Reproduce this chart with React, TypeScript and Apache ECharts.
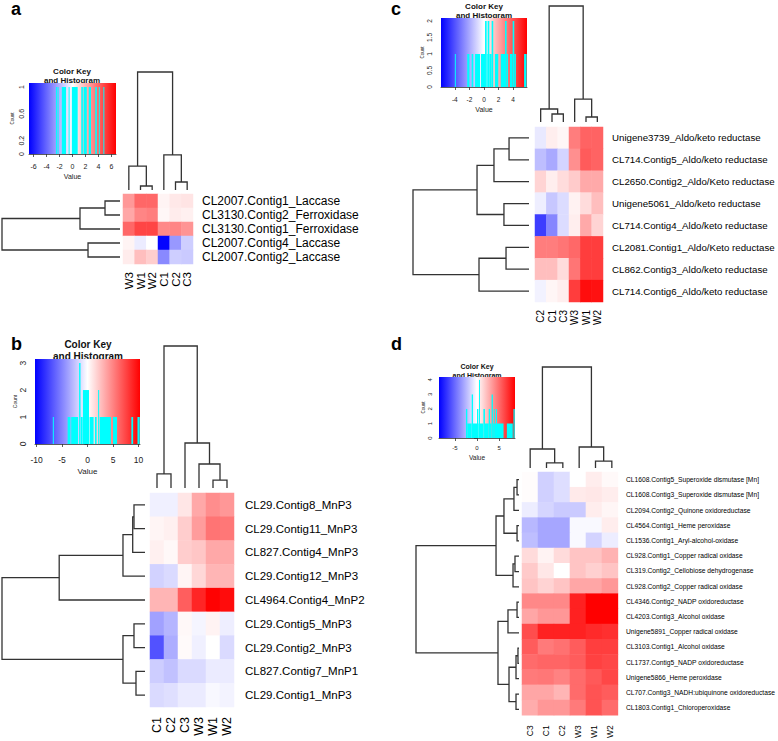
import React, { useEffect, useRef } from 'react';
import * as echarts from 'echarts';

type Merge = [number, number, number];
type Bin = [number, number, number];

// ---------------- Panel a ----------------
const aRows = ['CL2007.Contig1_Laccase', 'CL3130.Contig2_Ferroxidase', 'CL3130.Contig1_Ferroxidase', 'CL2007.Contig4_Laccase', 'CL2007.Contig2_Laccase'];
const aCols = ['W3', 'W1', 'W2', 'C1', 'C2', 'C3'];
const aValues = [
  [2.7, 4.0, 4.0, 0.3, 0.6, 0.7],
  [2.3, 3.2, 3.4, 0.2, 0.5, 0.4],
  [4.0, 4.9, 4.9, 3.1, 3.2, 2.8],
  [0.3, -0.5, 0.0, -6.6, -2.7, -1.3],
  [0.5, 1.7, 1.3, -3.1, -1.3, -1.4],
];
const aRowMerges: Merge[] = [[-1, -2, 0.127], [1, -3, 0.339], [-4, -5, 0.271], [2, 3, 1]];
const aColMerges: Merge[] = [[-2, -3, 0.034], [-1, 1, 0.203], [-5, -6, 0.068], [-4, 3, 0.297], [2, 4, 1]];
const aHist: Bin[] = [
  [-2.55, -2.4, 1], [-2.3, -2.15, 1], [-1.65, -1.0, 1], [-0.6, -0.45, 1], [-0.1, 0.8, 1],
  [1.35, 1.6, 1], [1.7, 2.2, 1], [2.5, 2.85, 1], [3.5, 3.75, 1], [4.05, 4.2, 1], [4.75, 4.9, 1],
];
const aXTicks = [-6, -4, -2, 0, 2, 4, 6];
const aYTicks = [0, 0.2, 0.4, 0.6, 0.8, 1];
const aYLabels = [0, 0.2, 0.6, 1];

// ---------------- Panel b ----------------
const bRows = ['CL29.Contig8_MnP3', 'CL29.Contig11_MnP3', 'CL827.Contig4_MnP3', 'CL29.Contig12_MnP3', 'CL4964.Contig4_MnP2', 'CL29.Contig5_MnP3', 'CL29.Contig2_MnP3', 'CL827.Contig7_MnP1', 'CL29.Contig1_MnP3'];
const bCols = ['C1', 'C2', 'C3', 'W3', 'W1', 'W2'];
const bValues = [
  [-0.6, -0.6, 1.0, 3.5, 4.6, 4.2],
  [0.4, 0.6, 2.0, 4.0, 5.6, 5.5],
  [0.6, 0.3, 2.0, 2.3, 3.5, 3.5],
  [-1.8, -1.5, 0.4, 1.6, 3.0, 3.0],
  [3.0, 3.0, 6.5, 8.8, 10.2, 9.8],
  [-3.8, -3.0, 0.3, -0.4, 0.5, -0.7],
  [-7.0, -3.3, 0.2, -0.6, 0.0, -1.5],
  [-2.0, -2.5, -1.5, -1.5, -0.8, -0.8],
  [-1.5, -1.3, -0.8, -0.8, -0.3, -0.5],
];
const bRowMerges: Merge[] = [[-1, -2, 0.077], [1, -3, 0.086], [2, -4, 0.154], [3, -5, 0.6], [-6, -7, 0.077], [-8, -9, 0.063], [5, 6, 0.154], [4, 7, 1]];
const bColMerges: Merge[] = [[-1, -2, 0.099], [-5, -6, 0.056], [-4, 2, 0.169], [-3, 3, 0.317], [1, 4, 1]];
const bHist: Bin[] = [
  [-6.8, -6.6, 1], [-3.9, -3.35, 1], [-3.2, -1.85, 1], [-1.65, -1.37, 3], [-1.3, -0.95, 1], [-0.9, 0.3, 2],
  [0.4, 1.2, 1], [1.45, 1.8, 1], [2.08, 2.28, 2], [2.4, 4.6, 1], [5.0, 5.8, 1], [8.6, 8.95, 1], [9.8, 10.25, 1],
];
const bXTicks = [-10, -5, 0, 5, 10];
const bYTicks = [0, 0.5, 1, 1.5, 2, 2.5, 3];
const bYLabels = [0, 1, 2, 3];

// ---------------- Panel c ----------------
const cRows = ['Unigene3739_Aldo/keto reductase', 'CL714.Contig5_Aldo/keto reductase', 'CL2650.Contig2_Aldo/Keto reductase', 'Unigene5061_Aldo/keto reductase', 'CL714.Contig4_Aldo/keto reductase', 'CL2081.Contig1_Aldo/Keto reductase', 'CL862.Contig3_Aldo/keto reductase', 'CL714.Contig6_Aldo/keto reductase'];
const cCols = ['C2', 'C1', 'C3', 'W3', 'W1', 'W2'];
const cValues = [
  [-0.5, 0.4, 0.2, 3.0, 3.6, 3.6],
  [-1.5, -2.0, -1.0, 2.6, 3.8, 3.6],
  [1.0, 0.4, 0.8, 1.2, 2.0, 2.0],
  [-0.4, -1.3, -0.8, 0.3, 0.8, 1.5],
  [-4.5, -2.8, -0.8, 0.4, 2.0, 1.0],
  [3.0, 3.0, 3.2, 3.5, 4.5, 4.5],
  [1.5, 1.5, 0.8, 3.2, 4.5, 4.5],
  [-0.3, 0.2, 0.4, 4.5, 5.6, 5.5],
];
const cRowMerges: Merge[] = [[-1, -2, 0.172], [1, -3, 0.302], [-4, -5, 0.216], [2, 3, 0.448], [-6, -7, 0.198], [5, -8, 0.431], [4, 6, 1]];
const cColMerges: Merge[] = [[-2, -3, 0.069], [-1, 1, 0.112], [-5, -6, 0.043], [-4, 3, 0.198], [2, 4, 1]];
const cHist: Bin[] = [
  [-4.0, -3.88, 1], [-2.3, -2.0, 1], [-1.7, -1.47, 1], [-1.23, -0.55, 1], [-0.41, 0.14, 1], [0.14, 0.37, 2],
  [0.37, 0.5, 1], [0.5, 0.73, 2], [0.73, 1.05, 1], [1.05, 1.27, 2], [1.5, 1.96, 1], [2.3, 2.88, 1],
  [2.88, 3.1, 2], [3.1, 3.3, 1], [3.56, 3.93, 1], [3.93, 4.15, 2], [4.15, 4.38, 1], [5.5, 5.85, 1],
];
const cXTicks = [-4, -2, 0, 2, 4];
const cYTicks = [0, 0.5, 1, 1.5, 2];
const cYLabels = [0, 0.5, 1, 1.5, 2];

// ---------------- Panel d ----------------
const dRows = [
  'CL1608.Contig5_Superoxide dismutase [Mn]', 'CL1608.Contig3_Superoxide dismutase [Mn]', 'CL2094.Contig2_Quinone oxidoreductase',
  'CL4564.Contig1_Heme peroxidase', 'CL1536.Contig1_Aryl-alcohol-oxidase', 'CL928.Contig1_Copper radical oxidase',
  'CL319.Contig2_Cellobiose dehydrogenase', 'CL928.Contig2_Copper radical oxidase', 'CL4346.Contig2_NADP oxidoreductase',
  'CL4203.Contig3_Alcohol oxidase', 'Unigene5891_Copper radical oxidase', 'CL3103.Contig1_Alcohol oxidase',
  'CL1737.Contig5_NADP oxidoreductase', 'Unigene5866_Heme peroxidase', 'CL707.Contig3_NADH:ubiquinone oxidoreductase',
  'CL1803.Contig1_Chloroperoxidase',
];
const dCols = ['C3', 'C1', 'C2', 'W3', 'W1', 'W2'];
const dValues = [
  [0.1, -1.6, -1.1, 0.0, 0.6, 0.2],
  [0.1, -1.6, -1.1, 0.7, 0.8, 0.6],
  [-0.6, -1.4, -1.8, -1.8, 0.6, 0.3],
  [-2.4, -3.0, -3.0, -0.2, -0.2, 0.6],
  [-2.2, -3.0, -3.0, -0.2, -1.5, -0.6],
  [1.2, 0.4, 1.2, 2.0, 2.0, 2.6],
  [1.8, 0.8, 0.0, 2.0, 1.6, 2.0],
  [2.0, 1.5, 2.0, 3.0, 3.0, 3.5],
  [4.0, 4.0, 4.0, 7.5, 8.6, 8.6],
  [3.0, 3.5, 3.5, 7.5, 8.6, 8.6],
  [6.0, 7.5, 7.5, 7.5, 7.2, 7.0],
  [5.5, 4.5, 4.8, 5.5, 6.5, 6.5],
  [5.0, 5.2, 5.2, 5.5, 6.4, 6.2],
  [4.5, 4.6, 4.2, 5.0, 5.6, 6.2],
  [3.0, 3.0, 2.5, 5.0, 5.8, 5.5],
  [2.8, 3.5, 3.5, 4.5, 5.8, 5.0],
];
const dRowMerges: Merge[] = [
  [-1, -2, 0.019], [1, -3, 0.049], [-4, -5, 0.019], [2, 3, 0.146], [-6, -7, 0.039], [5, -8, 0.058], [4, 6, 0.223],
  [-9, -10, 0.019], [8, -11, 0.107], [-12, -13, 0.01], [10, -14, 0.029], [-15, -16, 0.029], [11, 12, 0.097],
  [9, 13, 0.204], [7, 14, 1],
];
const dColMerges: Merge[] = [[-2, -3, 0.05], [-1, 1, 0.188], [-5, -6, 0.069], [-4, 3, 0.208], [2, 4, 1]];
const dHist: Bin[] = [
  [-2.5, -2.2, 2], [-2.2, -1.2, 1], [-1.2, -0.9, 3], [-0.9, 0.0, 1], [0.0, 0.3, 2], [0.3, 0.45, 1], [0.45, 0.68, 4],
  [0.68, 1.45, 1], [1.45, 1.8, 2], [1.8, 2.65, 1], [2.65, 2.95, 2], [2.95, 3.3, 1], [3.3, 3.6, 3], [3.6, 3.8, 1],
  [3.8, 3.95, 2], [3.95, 4.3, 1], [4.3, 4.5, 2], [4.5, 6.0, 1], [6.75, 8.1, 1], [8.25, 8.55, 2],
];
const dXTicks = [-5, 0, 5];
const dYTicks = [0, 1, 2, 3, 4];
const dYLabels = [0, 1, 2, 3, 4];

// ---------------- Layout / styling ----------------
const FONT = '"Liberation Sans", Arial, Helvetica, sans-serif';
const LINE = '#333333';

type Box = [number, number, number, number];
interface Panel {
  letter: string; letterPos: [number, number];
  rows: string[]; cols: string[]; values: number[][];
  rowMerges: Merge[]; colMerges: Merge[]; hist: Bin[];
  range: number; yMax: number; xTicks: number[]; yTicks: number[]; yLabels: number[];
  heat: Box; colD: Box; rowD: Box; key: Box;
  rowFont: number; rowGap: number; colFont: number; colGap: number;
  keyFont: number; xLabGap: number; valueGap: number; valueFont: number; yLabGap: number; countGap: number; countFont: number;
  titlePos: [number, number, number]; titleFont: number;
}

const panels: Panel[] = [
  {
    letter: 'a', letterPos: [11, 0], rows: aRows, cols: aCols, values: aValues, rowMerges: aRowMerges, colMerges: aColMerges, hist: aHist,
    range: 6.7, yMax: 1.06, xTicks: aXTicks, yTicks: aYTicks, yLabels: aYLabels,
    heat: [123, 194, 70, 70], colD: [123, 72, 70, 118], rowD: [2, 194, 118, 70], key: [29, 83, 87, 71],
    rowFont: 12, rowGap: 9, colFont: 11.5, colGap: 8,
    keyFont: 7, xLabGap: 9, valueGap: 19, valueFont: 7, yLabGap: 4, countGap: 14, countFont: 4.5,
    titlePos: [72, 71, 80], titleFont: 8,
  },
  {
    letter: 'b', letterPos: [11, 335], rows: bRows, cols: bCols, values: bValues, rowMerges: bRowMerges, colMerges: bColMerges, hist: bHist,
    range: 10.3, yMax: 3.15, xTicks: bXTicks, yTicks: bYTicks, yLabels: bYLabels,
    heat: [150, 493, 84, 214], colD: [150, 346, 84, 142], rowD: [2, 493, 143, 214], key: [35, 359, 105, 85],
    rowFont: 11.5, rowGap: 11, colFont: 12.5, colGap: 10,
    keyFont: 8.5, xLabGap: 11, valueGap: 23, valueFont: 8, yLabGap: 8, countGap: 18, countFont: 5,
    titlePos: [88, 344, 356], titleFont: 10,
  },
  {
    letter: 'c', letterPos: [391, 0], rows: cRows, cols: cCols, values: cValues, rowMerges: cRowMerges, colMerges: cColMerges, hist: cHist,
    range: 5.9, yMax: 2.09, xTicks: cXTicks, yTicks: cYTicks, yLabels: cYLabels,
    heat: [535, 127, 68, 175], colD: [535, 6, 68, 116], rowD: [413, 127, 116, 175], key: [441, 18, 86, 69],
    rowFont: 9.7, rowGap: 9, colFont: 10, colGap: 8,
    keyFont: 6.5, xLabGap: 9, valueGap: 19, valueFont: 7, yLabGap: 8, countGap: 15, countFont: 4.5,
    titlePos: [484, 6, 15], titleFont: 8,
  },
  {
    letter: 'd', letterPos: [391, 335], rows: dRows, cols: dCols, values: dValues, rowMerges: dRowMerges, colMerges: dColMerges, hist: dHist,
    range: 8.6, yMax: 4.2, xTicks: dXTicks, yTicks: dYTicks, yLabels: dYLabels,
    heat: [522, 472, 98, 245], colD: [522, 367, 98, 101], rowD: [416, 472, 103, 245], key: [439, 377, 76, 61],
    rowFont: 6.7, rowGap: 8, colFont: 8.5, colGap: 10,
    keyFont: 6, xLabGap: 7, valueGap: 16, valueFont: 6.5, yLabGap: 6, countGap: 13, countFont: 4.5,
    titlePos: [477, 366, 375], titleFont: 7,
  },
];

// dendrogram layout from merge list (R hclust style: negative = leaf in display order, positive = earlier merge)
function dendroSegments(merges: Merge[]): number[][] {
  const pos: number[] = [];
  const hgt: number[] = [];
  const P = (v: number) => (v < 0 ? -v - 1 : pos[v - 1]);
  const H = (v: number) => (v < 0 ? 0 : hgt[v - 1]);
  return merges.map(([a, b, h], k) => {
    const pa = P(a), pb = P(b);
    pos[k] = (pa + pb) / 2;
    hgt[k] = h;
    return [pa, H(a), pb, H(b), h];
  });
}

function gridOf(b: Box) {
  return { left: b[0], top: b[1], width: b[2], height: b[3], containLabel: false };
}

function buildOption() {
  const grid: any[] = [], xAxis: any[] = [], yAxis: any[] = [], series: any[] = [], visualMap: any[] = [], graphic: any[] = [];
  panels.forEach((P, idx) => {
    const g = idx * 4;
    grid.push(gridOf(P.heat), gridOf(P.colD), gridOf(P.rowD), gridOf(P.key));
    // heatmap axes
    xAxis.push({
      gridIndex: g, type: 'category', data: P.cols, position: 'bottom',
      axisLine: { show: false }, axisTick: { show: false }, splitArea: { show: false }, splitLine: { show: false },
      axisLabel: { rotate: 90, fontSize: P.colFont, margin: P.colGap, color: '#000', fontFamily: FONT, interval: 0 },
    });
    yAxis.push({
      gridIndex: g, type: 'category', data: P.rows, inverse: true, position: 'right',
      axisLine: { show: false }, axisTick: { show: false }, splitArea: { show: false }, splitLine: { show: false },
      axisLabel: { align: 'left', fontSize: P.rowFont, margin: P.rowGap, color: '#000', fontFamily: FONT, interval: 0 },
    });
    // column dendrogram axes
    xAxis.push({ gridIndex: g + 1, type: 'value', min: -0.5, max: P.cols.length - 0.5, show: false });
    yAxis.push({ gridIndex: g + 1, type: 'value', min: 0, max: 1, show: false });
    // row dendrogram axes
    xAxis.push({ gridIndex: g + 2, type: 'value', min: 0, max: 1, inverse: true, show: false });
    yAxis.push({ gridIndex: g + 2, type: 'value', min: -0.5, max: P.rows.length - 0.5, inverse: true, show: false });
    // key axes
    xAxis.push({
      gridIndex: g + 3, type: 'value', min: -P.range, max: P.range,
      axisLine: { show: true, lineStyle: { color: LINE, width: 0.8 } },
      axisTick: { show: true, length: 3, customValues: P.xTicks, lineStyle: { color: LINE, width: 0.8 } },
      axisLabel: { customValues: P.xTicks, fontSize: P.keyFont, margin: P.xLabGap, color: '#222', fontFamily: FONT, formatter: (v: number) => String(v) },
      splitLine: { show: false },
      name: 'Value', nameLocation: 'middle', nameGap: P.valueGap,
      nameTextStyle: { fontSize: P.valueFont, color: '#222', fontFamily: FONT },
    });
    yAxis.push({
      gridIndex: g + 3, type: 'value', min: 0, max: P.yMax,
      axisLine: { show: true, lineStyle: { color: LINE, width: 0.8 } },
      axisTick: { show: true, length: 3, customValues: P.yTicks, lineStyle: { color: LINE, width: 0.8 } },
      axisLabel: { customValues: P.yLabels, rotate: 90, fontSize: P.keyFont, margin: P.yLabGap, color: '#222', fontFamily: FONT, formatter: (v: number) => String(v) },
      splitLine: { show: false },
      name: 'Count', nameLocation: 'middle', nameRotate: 90, nameGap: P.countGap,
      nameTextStyle: { fontSize: P.countFont, color: '#222', fontFamily: FONT },
    });

    // heatmap series
    const hdata: number[][] = [];
    P.values.forEach((row, ri) => row.forEach((v, ci) => hdata.push([ci, ri, v])));
    series.push({
      type: 'heatmap', xAxisIndex: g, yAxisIndex: g, data: hdata,
      itemStyle: { borderWidth: 0 }, emphasis: { disabled: true }, progressive: 0,
    });
    visualMap.push({
      show: false, type: 'continuous', seriesIndex: series.length - 1, dimension: 2,
      min: -P.range, max: P.range, inRange: { color: ['#0000FF', '#FFFFFF', '#FF0000'] },
    });
    // column dendrogram
    series.push({
      type: 'custom', xAxisIndex: g + 1, yAxisIndex: g + 1, clip: false, silent: true,
      data: dendroSegments(P.colMerges),
      encode: { x: [0, 2], y: [1, 3, 4] },
      renderItem: (_p: any, api: any) => {
        const pa = api.value(0), ha = api.value(1), pb = api.value(2), hb = api.value(3), h = api.value(4);
        return {
          type: 'polyline',
          shape: { points: [api.coord([pa, ha]), api.coord([pa, h]), api.coord([pb, h]), api.coord([pb, hb])] },
          style: { stroke: LINE, lineWidth: 1.3, fill: 'none' },
        };
      },
    });
    // row dendrogram
    series.push({
      type: 'custom', xAxisIndex: g + 2, yAxisIndex: g + 2, clip: false, silent: true,
      data: dendroSegments(P.rowMerges),
      encode: { x: [1, 3, 4], y: [0, 2] },
      renderItem: (_p: any, api: any) => {
        const pa = api.value(0), ha = api.value(1), pb = api.value(2), hb = api.value(3), h = api.value(4);
        return {
          type: 'polyline',
          shape: { points: [api.coord([ha, pa]), api.coord([h, pa]), api.coord([h, pb]), api.coord([hb, pb])] },
          style: { stroke: LINE, lineWidth: 1.3, fill: 'none' },
        };
      },
    });
    // key gradient background
    series.push({
      type: 'custom', xAxisIndex: g + 3, yAxisIndex: g + 3, clip: false, silent: true,
      data: [[-P.range, P.range, P.yMax]],
      encode: { x: [0, 1], y: 2 },
      renderItem: (_p: any, api: any) => {
        const p1 = api.coord([api.value(0), api.value(2)]);
        const p2 = api.coord([api.value(1), 0]);
        return {
          type: 'rect',
          shape: { x: p1[0], y: p1[1], width: p2[0] - p1[0], height: p2[1] - p1[1] },
          style: {
            fill: new echarts.graphic.LinearGradient(0, 0, 1, 0, [
              { offset: 0, color: '#0000FF' }, { offset: 0.5, color: '#FFFFFF' }, { offset: 1, color: '#FF0000' },
            ]),
          },
        };
      },
    });
    // key histogram bars
    series.push({
      type: 'custom', xAxisIndex: g + 3, yAxisIndex: g + 3, clip: false, silent: true,
      data: P.hist,
      encode: { x: [0, 1], y: 2 },
      renderItem: (_p: any, api: any) => {
        const p1 = api.coord([api.value(0), api.value(2)]);
        const p2 = api.coord([api.value(1), 0]);
        return {
          type: 'rect',
          shape: { x: p1[0], y: p1[1], width: Math.max(1, p2[0] - p1[0]), height: p2[1] - p1[1] },
          style: { fill: '#00FFFF' },
        };
      },
    });

    // texts
    graphic.push(
      { type: 'text', z: 0, left: P.letterPos[0], top: P.letterPos[1], style: { text: P.letter, font: `bold 18px ${FONT}`, fill: '#000' } },
      { type: 'text', z: 0, x: P.titlePos[0], y: P.titlePos[1], style: { text: 'Color Key', font: `bold ${P.titleFont}px ${FONT}`, fill: '#111', align: 'center', verticalAlign: 'middle' } },
      { type: 'text', z: 0, x: P.titlePos[0], y: P.titlePos[2], style: { text: 'and Histogram', font: `bold ${P.titleFont}px ${FONT}`, fill: '#111', align: 'center', verticalAlign: 'middle' } },
    );
  });

  return {
    animation: false,
    backgroundColor: '#ffffff',
    textStyle: { fontFamily: FONT },
    grid, xAxis, yAxis, series, visualMap, graphic,
  };
}

export default function App() {
  const ref = useRef<HTMLDivElement>(null);
  useEffect(() => {
    document.body.style.margin = '0';
    if (!ref.current) return;
    const chart = echarts.init(ref.current, undefined, { renderer: 'svg' });
    chart.setOption(buildOption() as any);
    return () => chart.dispose();
  }, []);
  return <div ref={ref} style={{ width: 778, height: 741, position: 'absolute', left: 0, top: 0 }} />;
}
